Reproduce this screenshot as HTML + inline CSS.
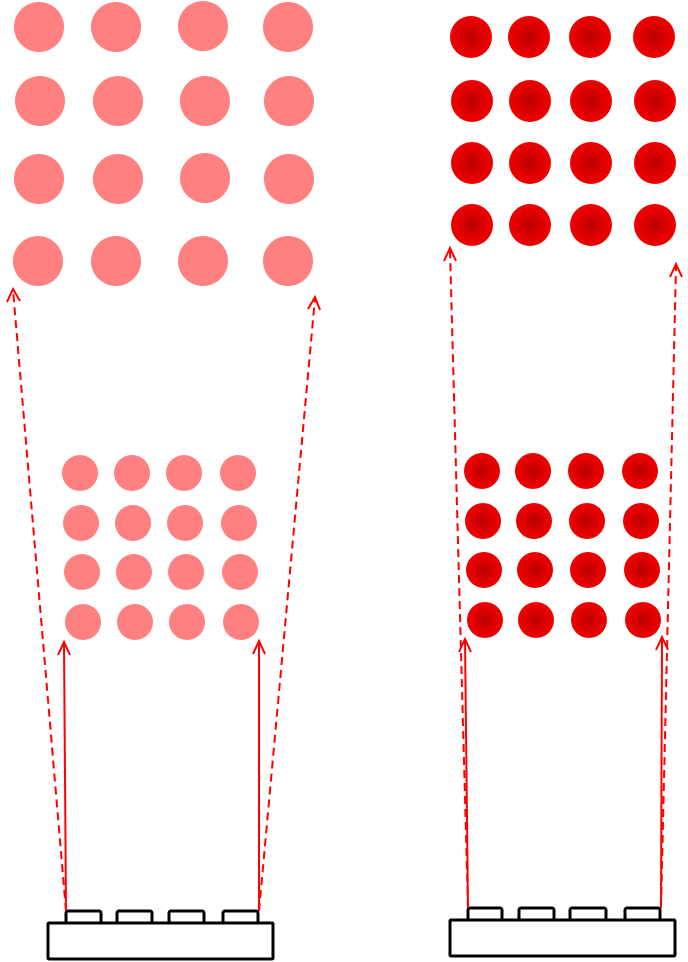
<!DOCTYPE html>
<html><head><meta charset="utf-8"><style>html,body{margin:0;padding:0;background:#fff}svg{display:block}</style></head>
<body>
<svg width="688" height="962" viewBox="0 0 688 962" xmlns="http://www.w3.org/2000/svg">
<defs>
<radialGradient id="rg"><stop offset="0" stop-color="#b80000"/><stop offset="0.6" stop-color="#e00000"/><stop offset="1" stop-color="#ee0000"/></radialGradient>
</defs>
<g fill="#ff8080">
<circle cx="39" cy="27" r="25"/><circle cx="116" cy="27" r="25"/><circle cx="203" cy="26" r="25"/><circle cx="288" cy="27" r="25"/>
<circle cx="40" cy="101" r="25"/><circle cx="118" cy="101" r="25"/><circle cx="205" cy="101" r="25"/><circle cx="289" cy="101" r="25"/>
<circle cx="39" cy="179" r="25"/><circle cx="118" cy="179" r="25"/><circle cx="205" cy="178" r="25"/><circle cx="289" cy="179" r="25"/>
<circle cx="38" cy="261" r="25"/><circle cx="116" cy="261" r="25"/><circle cx="203" cy="261" r="25"/><circle cx="288" cy="261" r="25"/>
<circle cx="80" cy="473" r="18"/><circle cx="132" cy="473" r="18"/><circle cx="184" cy="473" r="18"/><circle cx="238" cy="473" r="18"/>
<circle cx="81" cy="523" r="18"/><circle cx="133" cy="523" r="18"/><circle cx="185" cy="523" r="18"/><circle cx="239" cy="523" r="18"/>
<circle cx="82" cy="572" r="18"/><circle cx="134" cy="572" r="18"/><circle cx="186" cy="572" r="18"/><circle cx="240" cy="572" r="18"/>
<circle cx="83" cy="622" r="18"/><circle cx="135" cy="622" r="18"/><circle cx="187" cy="622" r="18"/><circle cx="241" cy="622" r="18"/>
</g>
<g fill="url(#rg)">
<circle cx="471" cy="37" r="21"/><circle cx="529" cy="37" r="21"/><circle cx="590" cy="37" r="21"/><circle cx="654" cy="37" r="21"/>
<circle cx="472" cy="101" r="21"/><circle cx="530" cy="101" r="21"/><circle cx="591" cy="101" r="21"/><circle cx="655" cy="101" r="21"/>
<circle cx="472" cy="163" r="21"/><circle cx="530" cy="163" r="21"/><circle cx="591" cy="163" r="21"/><circle cx="655" cy="163" r="21"/>
<circle cx="472" cy="225" r="21"/><circle cx="530" cy="225" r="21"/><circle cx="591" cy="225" r="21"/><circle cx="655" cy="225" r="21"/>
<circle cx="482" cy="471" r="18"/><circle cx="533" cy="471" r="18"/><circle cx="586" cy="471" r="18"/><circle cx="640" cy="471" r="18"/>
<circle cx="483" cy="521" r="18"/><circle cx="534" cy="521" r="18"/><circle cx="587" cy="521" r="18"/><circle cx="641" cy="521" r="18"/>
<circle cx="484" cy="570" r="18"/><circle cx="535" cy="570" r="18"/><circle cx="588" cy="570" r="18"/><circle cx="642" cy="570" r="18"/>
<circle cx="485" cy="620" r="18"/><circle cx="536" cy="620" r="18"/><circle cx="589" cy="620" r="18"/><circle cx="643" cy="620" r="18"/>
</g>
<g stroke="#000" stroke-width="3" fill="#fff" stroke-linejoin="round">
<rect x="66" y="911" width="35" height="12" rx="2"/><rect x="117" y="911" width="35" height="12" rx="2"/><rect x="169" y="911" width="35" height="12" rx="2"/><rect x="223" y="911" width="35" height="12" rx="2"/>
<rect x="48" y="923" width="225" height="36" rx="1"/>
<rect x="468" y="908" width="34" height="12" rx="2"/><rect x="519" y="908" width="35" height="12" rx="2"/><rect x="570" y="908" width="36" height="12" rx="2"/><rect x="625" y="908" width="35" height="12" rx="2"/>
<rect x="450" y="920" width="225" height="36" rx="1"/>
</g>
<g stroke="#ff0000" stroke-width="2" fill="none">
<line x1="66" y1="911" x2="64" y2="643"/><polyline points="58,655 64,642 70,655"/>
<line x1="259" y1="911" x2="259" y2="642"/><polyline points="253,654 259,641 265,654"/>
<line x1="468" y1="908" x2="465" y2="640"/><polyline points="459,652 465,639 471,652"/>
<line x1="661" y1="908" x2="662" y2="638"/><polyline points="656,650 662,637 668,650"/>
<g stroke-dasharray="8,5">
<line x1="66" y1="911" x2="13" y2="290"/>
<line x1="259" y1="911" x2="315" y2="298"/>
<line x1="468" y1="908" x2="450" y2="250"/>
<line x1="661" y1="908" x2="676" y2="266"/>
</g>
<polyline points="7,302 13,289 20,301"/>
<polyline points="308,309 315,297 320,310"/>
<polyline points="444,261 450,248 456,261"/>
<polyline points="670,277 676,264 682,277"/>
</g>
</svg>
</body></html>
